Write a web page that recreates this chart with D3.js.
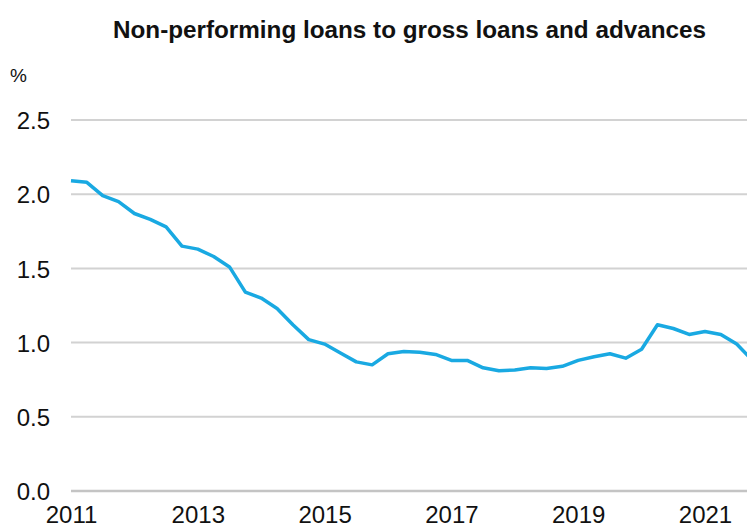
<!DOCTYPE html>
<html>
<head>
<meta charset="utf-8">
<script src="https://cdn.jsdelivr.net/npm/d3@7"></script>
<style>
  html, body { margin: 0; padding: 0; background: #fff; }
  svg { display: block; }
  text { font-family: "Liberation Sans", Arial, sans-serif; fill: #111; }
</style>
</head>
<body>
<svg id="chart" width="747" height="529"></svg>
<script>
// Quarterly NPL ratio (%), first quarter of 2011 onwards
const startYear = 2011;
const nplRatio = [
  2.09, 2.08, 1.99, 1.95, 1.87, 1.83, 1.78, 1.65,
  1.63, 1.58, 1.51, 1.34, 1.30, 1.23, 1.12, 1.02,
  0.99, 0.93, 0.87, 0.85, 0.925, 0.94, 0.935, 0.92,
  0.88, 0.88, 0.83, 0.81, 0.815, 0.83, 0.825, 0.84,
  0.88, 0.905, 0.925, 0.895, 0.955, 1.12, 1.095, 1.055,
  1.075, 1.055, 0.99, 0.88
];
const yTicks = [0, 0.5, 1.0, 1.5, 2.0, 2.5];
const xTicks = [2011, 2013, 2015, 2017, 2019, 2021];
const titleText = "Non-performing loans to gross loans and advances";
const unitText = "%";

const series = nplRatio.map((v, i) => ({ t: startYear + i / 4, v }));

const svg = d3.select("#chart");
const W = 747, H = 529;
const plotLeft = 71, plotRight = W;

const x = d3.scaleLinear().domain([2011, 2021]).range([71, 705]);
const y = d3.scaleLinear().domain([0, 2.5]).range([491, 120]);

// Title and unit
svg.append("text")
  .attr("x", 113).attr("y", 38)
  .attr("font-size", 23).attr("font-weight", "bold")
  .attr("textLength", 593).attr("lengthAdjust", "spacingAndGlyphs")
  .text(titleText);

svg.append("text")
  .attr("x", 10).attr("y", 82)
  .attr("font-size", 19)
  .text(unitText);

// Horizontal gridlines
svg.append("g")
  .selectAll("line")
  .data(yTicks)
  .join("line")
  .attr("x1", plotLeft).attr("x2", plotRight)
  .attr("y1", d => y(d)).attr("y2", d => y(d))
  .attr("stroke", d => d === 0 ? "#c4c4c4" : "#d2d2d2")
  .attr("stroke-width", d => d === 0 ? 2.5 : 2);

// Y axis labels
const yAxis = d3.axisLeft(y).tickValues(yTicks).tickFormat(d3.format(".1f")).tickSize(0).tickPadding(0);
svg.append("g")
  .attr("transform", "translate(50,0)")
  .call(yAxis)
  .call(g => g.select(".domain").remove())
  .call(g => g.selectAll("text")
    .attr("font-size", 24).attr("font-family", "Liberation Sans, Arial, sans-serif")
    .attr("fill", "#111").attr("dy", "0.36em"));

// X axis labels
const xAxis = d3.axisBottom(x).tickValues(xTicks).tickFormat(d3.format("d")).tickSize(0).tickPadding(0);
svg.append("g")
  .attr("transform", "translate(0,506)")
  .call(xAxis)
  .call(g => g.select(".domain").remove())
  .call(g => g.selectAll("text")
    .attr("font-size", 24).attr("font-family", "Liberation Sans, Arial, sans-serif")
    .attr("fill", "#111").attr("dy", "0.71em"));

// NPL line
const line = d3.line().x(d => x(d.t)).y(d => y(d.v));
svg.append("path")
  .datum(series)
  .attr("d", line)
  .attr("fill", "none")
  .attr("stroke", "#19a9e2")
  .attr("stroke-width", 3.5)
  .attr("stroke-linejoin", "round")
  .attr("stroke-linecap", "butt");
</script>
</body>
</html>
